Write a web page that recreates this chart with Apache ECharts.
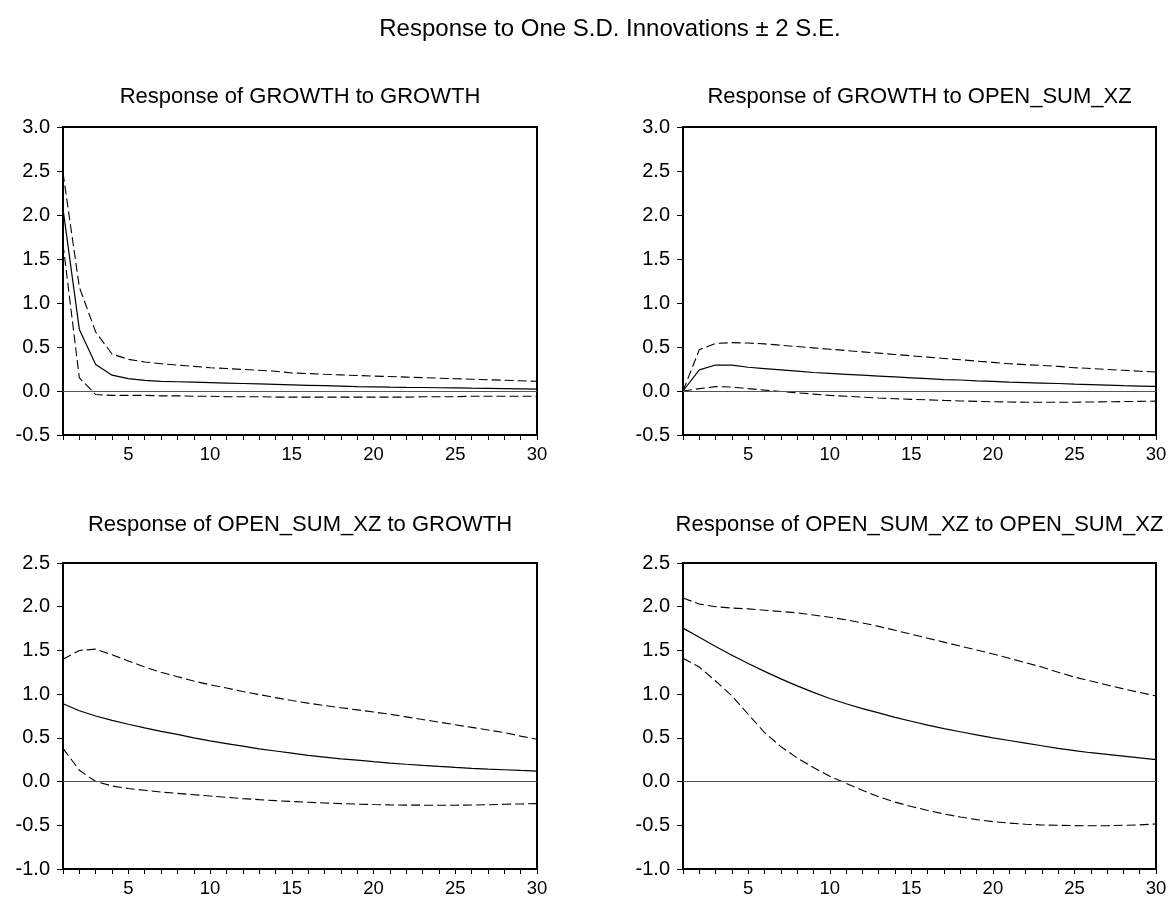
<!DOCTYPE html>
<html>
<head>
<meta charset="utf-8">
<script src="https://cdn.jsdelivr.net/npm/echarts@6/dist/echarts.min.js"></script>
<style>
  html, body { margin: 0; padding: 0; background: #fff; }
  #chart { width: 1172px; height: 898px; }
</style>
</head>
<body>
<div id="chart"></div>
<script>
// periods 1..30
var periods = [1,2,3,4,5,6,7,8,9,10,11,12,13,14,15,16,17,18,19,20,21,22,23,24,25,26,27,28,29,30];

// Response of GROWTH to GROWTH
var gg_mid = [2.07,0.70,0.30,0.18,0.14,0.12,0.11,0.105,0.10,0.095,0.09,0.085,0.08,0.075,0.07,0.065,0.06,0.055,0.05,0.048,0.045,0.042,0.04,0.037,0.035,0.032,0.03,0.028,0.025,0.022];
var gg_up  = [2.48,1.18,0.67,0.42,0.36,0.33,0.31,0.295,0.28,0.265,0.255,0.245,0.235,0.225,0.205,0.198,0.19,0.183,0.176,0.17,0.164,0.158,0.152,0.146,0.14,0.134,0.128,0.122,0.116,0.11];
var gg_lo  = [1.67,0.15,-0.04,-0.05,-0.05,-0.05,-0.055,-0.055,-0.06,-0.06,-0.065,-0.065,-0.065,-0.07,-0.07,-0.07,-0.07,-0.07,-0.07,-0.07,-0.07,-0.07,-0.065,-0.065,-0.065,-0.06,-0.06,-0.06,-0.06,-0.06];

// Response of GROWTH to OPEN_SUM_XZ
var go_mid = [0,0.24,0.295,0.295,0.27,0.255,0.24,0.225,0.21,0.20,0.19,0.18,0.17,0.16,0.15,0.14,0.13,0.125,0.115,0.11,0.10,0.095,0.09,0.085,0.078,0.072,0.066,0.06,0.056,0.053];
var go_up  = [0,0.47,0.54,0.55,0.545,0.535,0.52,0.505,0.49,0.475,0.46,0.445,0.43,0.415,0.40,0.385,0.37,0.355,0.34,0.325,0.31,0.30,0.29,0.28,0.265,0.255,0.245,0.235,0.225,0.215];
var go_lo  = [0,0.027,0.05,0.045,0.027,0.01,-0.005,-0.02,-0.035,-0.05,-0.06,-0.07,-0.08,-0.088,-0.095,-0.1,-0.107,-0.113,-0.118,-0.122,-0.125,-0.127,-0.128,-0.128,-0.127,-0.125,-0.122,-0.12,-0.118,-0.115];

// Response of OPEN_SUM_XZ to GROWTH
var og_mid = [0.89,0.81,0.75,0.70,0.656,0.615,0.575,0.54,0.50,0.465,0.435,0.405,0.375,0.35,0.325,0.30,0.28,0.26,0.245,0.228,0.212,0.198,0.185,0.173,0.162,0.152,0.143,0.135,0.127,0.12];
var og_up  = [1.40,1.50,1.515,1.45,1.38,1.31,1.25,1.20,1.15,1.107,1.07,1.03,0.995,0.96,0.927,0.897,0.87,0.845,0.82,0.795,0.77,0.74,0.71,0.68,0.65,0.62,0.59,0.56,0.52,0.485];
var og_lo  = [0.38,0.13,0.0,-0.05,-0.08,-0.10,-0.12,-0.135,-0.15,-0.165,-0.18,-0.195,-0.207,-0.218,-0.228,-0.237,-0.245,-0.252,-0.258,-0.263,-0.267,-0.269,-0.27,-0.27,-0.27,-0.268,-0.265,-0.26,-0.256,-0.252];

// Response of OPEN_SUM_XZ to OPEN_SUM_XZ
var oo_mid = [1.755,1.65,1.545,1.445,1.35,1.26,1.175,1.095,1.02,0.95,0.89,0.835,0.785,0.735,0.69,0.645,0.605,0.57,0.535,0.5,0.47,0.44,0.41,0.38,0.355,0.33,0.31,0.29,0.27,0.25];
var oo_up  = [2.10,2.03,2.0,1.985,1.975,1.96,1.945,1.93,1.905,1.88,1.85,1.815,1.775,1.73,1.685,1.64,1.595,1.55,1.505,1.46,1.41,1.36,1.31,1.25,1.195,1.15,1.105,1.06,1.02,0.98];
var oo_lo  = [1.41,1.31,1.15,0.98,0.77,0.56,0.40,0.27,0.16,0.06,-0.02,-0.1,-0.175,-0.235,-0.285,-0.33,-0.37,-0.405,-0.435,-0.458,-0.475,-0.488,-0.496,-0.5,-0.504,-0.505,-0.505,-0.5,-0.495,-0.485];

var panelTitles = ['Response of GROWTH to GROWTH', 'Response of GROWTH to OPEN_SUM_XZ',
                   'Response of OPEN_SUM_XZ to GROWTH', 'Response of OPEN_SUM_XZ to OPEN_SUM_XZ'];
var yMins = [-0.5, -0.5, -1.0, -1.0];
var yMaxs = [3.0, 3.0, 2.5, 2.5];
var panelData = [[gg_mid, gg_up, gg_lo], [go_mid, go_up, go_lo], [og_mid, og_up, og_lo], [oo_mid, oo_up, oo_lo]];

var FONT = '"Liberation Sans", Arial, Helvetica, sans-serif';

// 每个子图的位置
var boxes = [
  { left: 63,  top: 127, width: 474, height: 308 },
  { left: 683, top: 127, width: 473, height: 308 },
  { left: 63,  top: 563, width: 474, height: 307 },
  { left: 683, top: 563, width: 473, height: 307 }
];
var titleTops = [86, 86, 514, 514];

function pairs(vals) {
  var out = [];
  for (var i = 0; i < periods.length; i++) {
    out.push([periods[i], vals[i]]);
  }
  return out;
}

var grids = [], xAxes = [], yAxes = [], series = [];
var titles = [{
  text: 'Response to One S.D. Innovations \u00b1 2 S.E.',
  left: 610, top: 17, textAlign: 'center', padding: 0,
  textStyle: { fontFamily: FONT, fontSize: 24, fontWeight: 'normal', color: '#000' }
}];

for (var k = 0; k < 4; k++) {
  var b = boxes[k];
  grids.push({
    left: b.left, top: b.top, width: b.width, height: b.height,
    show: true, borderColor: '#000', borderWidth: 2, backgroundColor: '#fff'
  });
  titles.push({
    text: panelTitles[k],
    left: b.left + b.width / 2, top: titleTops[k], textAlign: 'center', padding: 0,
    textStyle: { fontFamily: FONT, fontSize: 22, fontWeight: 'normal', color: '#000' }
  });
  xAxes.push({
    type: 'value', gridIndex: k, min: 1, max: 30, interval: 1,
    axisLine: { show: false, onZero: false },
    axisTick: { show: true, length: 5, lineStyle: { color: '#000', width: 1 } },
    splitLine: { show: false },
    axisLabel: {
      margin: 10, fontFamily: FONT, fontSize: 18.5, color: '#000',
      formatter: function (v) { return v % 5 === 0 ? String(v) : ''; }
    }
  });
  yAxes.push({
    type: 'value', gridIndex: k, min: yMins[k], max: yMaxs[k], interval: 0.5,
    axisLine: { show: false, onZero: false },
    axisTick: { show: true, length: 6, lineStyle: { color: '#000', width: 1 } },
    splitLine: { show: false },
    axisLabel: {
      margin: 13, fontFamily: FONT, fontSize: 20, color: '#000',
      formatter: function (v) { return v.toFixed(1); }
    }
  });
  var d = panelData[k];
  series.push({
    type: 'line', xAxisIndex: k, yAxisIndex: k, data: pairs(d[0]),
    symbol: 'none', silent: true,
    lineStyle: { color: '#000', width: 1.2, type: 'solid' },
    markLine: {
      silent: true, symbol: 'none', label: { show: false },
      lineStyle: { color: '#555', width: 1, type: 'solid' },
      data: [{ yAxis: 0 }]
    }
  });
  series.push({
    type: 'line', xAxisIndex: k, yAxisIndex: k, data: pairs(d[1]),
    symbol: 'none', silent: true,
    lineStyle: { color: '#000', width: 1.1, type: [9, 4] }
  });
  series.push({
    type: 'line', xAxisIndex: k, yAxisIndex: k, data: pairs(d[2]),
    symbol: 'none', silent: true,
    lineStyle: { color: '#000', width: 1.1, type: [9, 4] }
  });
}

var myChart = echarts.init(document.getElementById('chart'));
myChart.setOption({
  animation: false,
  backgroundColor: '#fff',
  title: titles,
  grid: grids,
  xAxis: xAxes,
  yAxis: yAxes,
  series: series
});
</script>
</body>
</html>
